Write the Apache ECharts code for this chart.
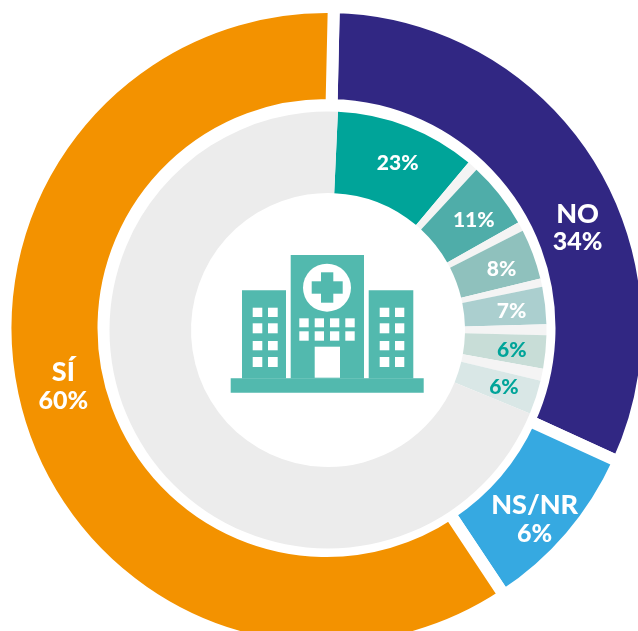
<!DOCTYPE html>
<html>
<head>
<meta charset="utf-8">
<style>
  html, body { margin: 0; padding: 0; background: #fff; overflow: hidden; }
  #chart { width: 638px; height: 631px; }
</style>
</head>
<body>
<div id="chart"></div>
<script src="https://cdn.jsdelivr.net/npm/echarts@6/dist/echarts.min.js"></script>
<script>
// outer ring, arc sizes in degrees as drawn (the printed % do not quite follow the arcs)
const outerNames = ['NO', 'NS/NR', 'SÍ']
const outerPrinted = ['34%', '6%', '60%']
const outerArcs = [113.3, 31.8, 214.9]
const outerColors = ['#312783', '#36a9e1', '#f39200']

// inner ring, slices alternate with the thin separators, last one is the grey remainder
const innerPrinted = ['23%', '', '11%', '', '8%', '', '7%', '', '6%', '', '6%', '']
const innerArcs = [37.4, 2.8, 17.7, 2.5, 13.4, 2.2, 9.9, 2.9, 8.8, 3.2, 9.1, 250.1]
const innerColors = ['#00a499', '#f4f4f4', '#4fada9', '#f4f4f4', '#8fc1bd', '#f4f4f4', '#abcfcf', '#f4f4f4', '#c8ddd7', '#f4f4f4', '#d9e7e6', '#ececec']
const innerTextColors = ['#fff', '', '#fff', '', '#fff', '', '#fff', '', '#00a499', '', '#00a499', '']

const FONT = 'Lato, "Open Sans", sans-serif'
const ICON = '#52b9ae'

const rect = (x1, y1, x2, y2, fill) => ({
  type: 'rect',
  silent: true,
  z: 10,
  shape: { x: x1, y: y1, width: x2 - x1, height: y2 - y1 },
  style: { fill },
})

// hospital icon in the middle
const iconParts = () => {
  const parts = [
    rect(230.7, 378.3, 423.7, 392.7, ICON),
    rect(242, 290.3, 286, 378.5, ICON),
    rect(290.7, 255, 364, 378.5, ICON),
    rect(368.7, 290.3, 413.3, 378.5, ICON),
    { type: 'circle', silent: true, z: 10, shape: { cx: 327, cy: 287.7, r: 24 }, style: { fill: '#fff' } },
    rect(321, 272.3, 333.3, 302.7, ICON),
    rect(311.7, 281.3, 342.7, 293.7, ICON),
    rect(314.7, 346.7, 340, 377.7, '#fff'),
  ]
  const sideRows = [[307.7, 317], [323.3, 333.3], [341, 350.3], [357, 367]]
  const sideCols = [[252.7, 262.3], [268, 277.7], [379.7, 389.3], [395, 404.3]]
  sideRows.forEach((r) => sideCols.forEach((c) => parts.push(rect(c[0], r[0], c[1], r[1], '#fff'))))
  const midRows = [[318.3, 327.3], [331.3, 340.7]]
  const midCols = [[299.3, 308.7], [314.7, 324], [330, 339.3], [345.3, 354.7]]
  midRows.forEach((r) => midCols.forEach((c) => parts.push(rect(c[0], r[0], c[1], r[1], '#fff'))))
  return parts
}

// labels do not sit on the slice middle in the original
const outerOffsets = [[18, 46], [-1, 13], [1, -18]]

const chart = echarts.init(document.getElementById('chart'))
chart.setOption({
  animation: false,
  backgroundColor: '#fff',
  graphic: { elements: iconParts() },
  series: [
    {
      type: 'pie',
      silent: true,
      z: 1,
      center: [326.5, 328],
      radius: [223, 321],
      startAngle: 88.7,
      avoidLabelOverlap: false,
      labelLine: { show: false },
      data: outerArcs.map((v, i) => ({
        name: outerNames[i],
        value: v,
        itemStyle: { color: outerColors[i], borderColor: '#fff', borderWidth: 12 },
        label: {
          show: true,
          position: 'inside',
          offset: outerOffsets[i],
          formatter: '{name|' + outerNames[i] + '}\n{pct|' + outerPrinted[i] + '}',
          align: 'center',
          rich: {
            name: { color: '#fff', fontFamily: FONT, fontWeight: 900, fontSize: 27, lineHeight: 28, align: 'center' },
            pct: { color: '#fff', fontFamily: FONT, fontWeight: 900, fontSize: 25, lineHeight: 28, align: 'center' },
          },
        },
      })),
    },
    {
      type: 'pie',
      silent: true,
      z: 2,
      center: [328, 330],
      radius: [137, 218.5],
      startAngle: 87.4,
      avoidLabelOverlap: false,
      labelLine: { show: false },
      data: innerArcs.map((v, i) => ({
        value: v,
        itemStyle: { color: innerColors[i] },
        label: {
          show: innerPrinted[i] !== '',
          position: 'inside',
          offset: [4, 2],
          formatter: innerPrinted[i],
          color: innerTextColors[i],
          fontFamily: FONT,
          fontWeight: 900,
          fontSize: 21,
        },
      })),
    },
  ],
})

window.addEventListener('resize', () => {
  chart.resize()
})
</script>
</body>
</html>
